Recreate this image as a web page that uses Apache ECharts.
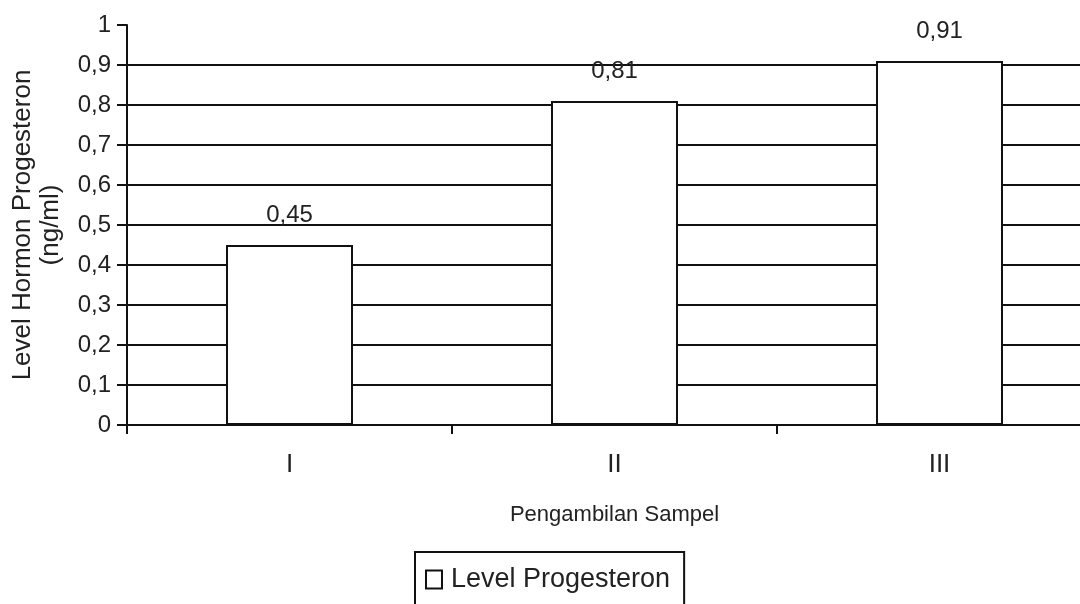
<!DOCTYPE html>
<html>
<head>
<meta charset="utf-8">
<script src="https://cdn.jsdelivr.net/npm/echarts@6/dist/echarts.min.js"></script>
<style>
html,body{margin:0;padding:0;background:#fff;}
#c{width:1080px;height:604px;}
</style>
</head>
<body>
<div id="c"></div>
<script>
const categories = ['I', 'II', 'III'];
const progesteron = [0.45, 0.81, 0.91];
const seriesName = 'Level Progesteron';
const xTitle = 'Pengambilan Sampel';
const yTitle = 'Level Hormon Progesteron\n(ng/ml)';

const comma = v => String(v).replace('.', ',');
const gridColors = ['#111','#111','#111','#111','#111','#111','#111','#111','#111','#111','rgba(0,0,0,0)'];
const font = 'Arial, "Liberation Sans", sans-serif';

const chart = echarts.init(document.getElementById('c'));
chart.setOption({
  backgroundColor: '#fff',
  animation: false,
  textStyle: { fontFamily: font, color: '#222' },
  grid: { left: 127, top: 25, width: 975, height: 400, containLabel: false, outerBoundsMode: 'none' },
  legend: {
    data: [{ name: seriesName, icon: 'rect' }],
    left: 415,
    top: 552,
    orient: 'horizontal',
    borderColor: '#111',
    borderWidth: 2,
    borderRadius: 0,
    padding: [14, 14, 40, 10],
    itemWidth: 16,
    itemHeight: 18,
    textStyle: { fontSize: 27, color: '#222', fontFamily: font, padding: [0, 0, 0, 4] }
  },
  xAxis: {
    type: 'category',
    data: categories,
    name: xTitle,
    nameLocation: 'middle',
    nameGap: 79,
    nameTextStyle: { fontSize: 22, color: '#222', fontFamily: font },
    axisLine: { lineStyle: { color: '#111', width: 2 } },
    axisTick: { show: true, length: 9, lineStyle: { color: '#111', width: 2 } },
    axisLabel: { fontSize: 26, color: '#222', margin: 27 },
    splitLine: { show: false }
  },
  yAxis: {
    type: 'value',
    min: 0,
    max: 1,
    interval: 0.1,
    name: yTitle,
    nameLocation: 'middle',
    nameRotate: 90,
    nameGap: 62,
    nameTextStyle: { fontSize: 26, color: '#222', fontFamily: font, lineHeight: 28, align: 'center' },
    axisLine: { show: true, lineStyle: { color: '#111', width: 2 } },
    axisTick: { show: true, length: 10, lineStyle: { color: '#111', width: 2 } },
    axisLabel: { fontSize: 24, color: '#222', margin: 16, formatter: v => comma(Math.round(v * 10) / 10) },
    splitLine: { show: true, lineStyle: { color: gridColors, width: 2 } }
  },
  series: [{
    name: seriesName,
    type: 'bar',
    data: progesteron,
    barWidth: 127,
    itemStyle: { color: '#fff', borderColor: '#111', borderWidth: 2 },
    label: {
      show: true,
      position: 'top',
      distance: 18,
      fontSize: 24,
      color: '#222',
      fontFamily: font,
      formatter: p => comma(p.value)
    }
  }]
});
</script>
</body>
</html>
